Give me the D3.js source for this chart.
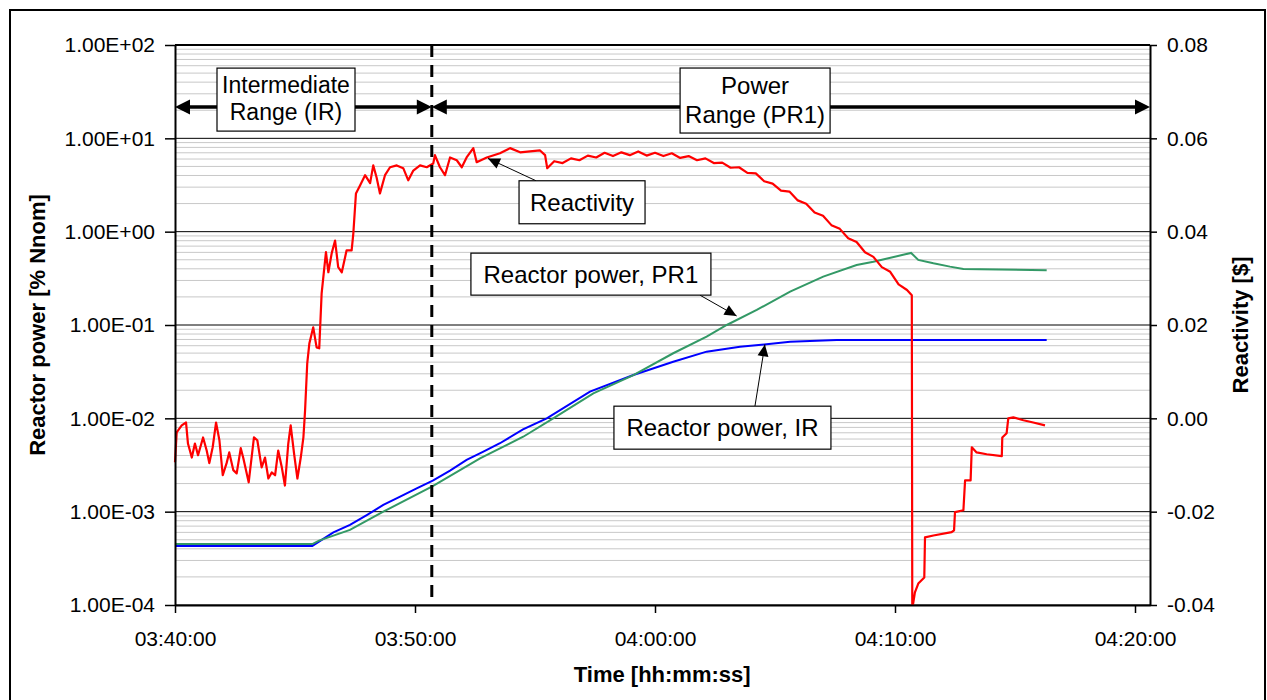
<!DOCTYPE html>
<html>
<head>
<meta charset="utf-8">
<script src="https://cdn.jsdelivr.net/npm/d3@7"></script>
<style>
  body { margin: 0; background: #fff; }
  svg text { font-family: Arial, "Liberation Sans", sans-serif; fill: #000; }
</style>
</head>
<body>
<div id="chart"></div>
<script>
// all times are minutes after 03:40:00
const reactTime = [
  0, 0.07, 0.28, 0.46, 0.54, 0.70, 0.83, 0.96, 1.17, 1.32, 1.43, 1.57, 1.71, 1.85, 1.99,
  2.15, 2.26, 2.43, 2.57, 2.74, 2.85, 3.07, 3.29, 3.43, 3.61, 3.75, 3.89, 4.03, 4.17, 4.30,
  4.45, 4.58, 4.72, 4.82, 4.96, 5.10, 5.24, 5.35, 5.42, 5.51, 5.60, 5.76, 5.90, 6.01, 6.11,
  6.21, 6.29, 6.39, 6.53, 6.67, 6.80, 6.95, 7.15, 7.36, 7.43, 7.54, 7.71, 7.92, 8.13, 8.26,
  8.40, 8.54, 8.75, 8.96, 9.24, 9.51, 9.72, 9.93, 10.21, 10.49, 10.76, 10.83, 11.04, 11.25, 11.46,
  11.74, 11.95, 12.15, 12.43, 12.57, 12.99, 13.54, 13.96, 14.38, 14.79, 15.21, 15.42, 15.51,
  15.80, 16.15, 16.50, 16.85, 17.20, 17.55, 17.90, 18.25, 18.60, 18.95, 19.30, 19.65, 20.00,
  20.35, 20.70, 21.05, 21.40, 21.75, 22.10, 22.45, 22.80, 23.15, 23.50, 23.85, 24.20, 24.55,
  24.90, 25.25, 25.60, 25.95, 26.30, 26.65, 27.00, 27.35, 27.70, 28.05, 28.40, 28.75, 29.10,
  29.45, 29.80, 30.15, 30.50, 30.70, 30.72, 30.76, 30.83, 30.97, 31.18, 31.22, 31.25, 31.60,
  32.36, 32.46, 32.50, 32.85, 32.92, 33.15, 33.20, 33.40, 33.82, 34.45, 34.47, 34.65, 34.72,
  34.93, 35.35, 35.76, 36.25
];
const reactValue = [
  -0.0094, -0.0030, -0.0015, -0.0009, -0.0054, -0.0084, -0.0054, -0.0079, -0.0041, -0.0069, -0.0096, -0.0062, -0.0009, -0.0047, -0.0122,
  -0.0096, -0.0073, -0.0111, -0.0118, -0.0064, -0.0086, -0.0137, -0.0041, -0.0047, -0.0105, -0.0084, -0.0129, -0.0116, -0.0122, -0.0069,
  -0.0105, -0.0144, -0.0054, -0.0015, -0.0075, -0.0129, -0.0084, -0.0041, 0.0017, 0.0118, 0.0161, 0.0195, 0.0152, 0.0150, 0.0268,
  0.0317, 0.0356, 0.0313, 0.0354, 0.0381, 0.0324, 0.0313, 0.0360, 0.0360, 0.0396, 0.0482, 0.0499, 0.0521, 0.0504, 0.0542,
  0.0516, 0.0482, 0.0521, 0.0538, 0.0542, 0.0536, 0.0510, 0.0531, 0.0542, 0.0538, 0.0546, 0.0564, 0.0538, 0.0521, 0.0559,
  0.0553, 0.0538, 0.0559, 0.0579, 0.0549, 0.0559, 0.0568, 0.0579, 0.0570, 0.0572, 0.0574, 0.0564, 0.0536,
  0.0551, 0.0547, 0.0557, 0.0553, 0.0563, 0.0559, 0.0569, 0.0562, 0.0570, 0.0564, 0.0572, 0.0563, 0.0569,
  0.0562, 0.0568, 0.0558, 0.0562, 0.0553, 0.0557, 0.0547, 0.0548, 0.0537, 0.0538, 0.0526, 0.0525, 0.0508,
  0.0503, 0.0488, 0.0486, 0.0467, 0.0460, 0.0441, 0.0434, 0.0414, 0.0406, 0.0386, 0.0378, 0.0356, 0.0346,
  0.0324, 0.0314, 0.0287, 0.0275, 0.0264, -0.0400, -0.0396, -0.0373, -0.0354, -0.0343, -0.0341, -0.0255, -0.0251,
  -0.0244, -0.0240, -0.0201, -0.0197, -0.0133, -0.0133, -0.0062, -0.0073, -0.0077, -0.0081, -0.0041, -0.0032, 0.0000,
  0.0002, -0.0004, -0.0009, -0.0015
];

const irTime = [0, 5.72, 6.60, 7.29, 7.99, 8.68, 9.38, 10.07, 10.74, 11.46, 12.15, 12.85, 13.54, 14.50,
  15.49, 17.29, 19.10, 20.76, 22.15, 23.54, 24.65, 25.63, 27.57, 36.32];
const irPower = [4.3e-4, 4.3e-4, 6.0e-4, 7.2e-4, 9.2e-4, 1.18e-3, 1.45e-3, 1.78e-3, 2.15e-3, 2.75e-3, 3.58e-3, 4.40e-3, 5.41e-3, 7.6e-3,
  1.0e-2, 1.93e-2, 2.91e-2, 4.04e-2, 5.18e-2, 5.86e-2, 6.21e-2, 6.62e-2, 6.90e-2, 6.90e-2];

const prTime = [0, 5.72, 6.00, 7.29, 8.68, 10.74, 12.71, 13.54, 14.51, 15.76, 17.43, 19.10, 20.76, 22.15,
  22.99, 24.24, 25.63, 27.01, 28.40, 29.10, 30.67, 30.97, 31.60, 32.29, 32.85, 33.54, 36.32];
const prPower = [4.5e-4, 4.5e-4, 4.9e-4, 6.37e-4, 1.0e-3, 1.88e-3, 3.73e-3, 4.77e-3, 6.35e-3, 1.0e-2, 1.85e-2, 2.91e-2, 4.98e-2, 7.5e-2,
  0.100, 0.145, 0.228, 0.330, 0.440, 0.476, 0.592, 0.498, 0.458, 0.422, 0.398, 0.395, 0.386];

const powerTicks = [1e-4, 1e-3, 1e-2, 1e-1, 1, 10, 100];
const powerTickLabels = ["1.00E-04", "1.00E-03", "1.00E-02", "1.00E-01", "1.00E+00", "1.00E+01", "1.00E+02"];
const reactTicks = [-0.04, -0.02, 0, 0.02, 0.04, 0.06, 0.08];
const reactTickLabels = ["-0.04", "-0.02", "0.00", "0.02", "0.04", "0.06", "0.08"];
const timeTicks = [0, 10, 20, 30, 40];
const timeTickLabels = ["03:40:00", "03:50:00", "04:00:00", "04:10:00", "04:20:00"];
const timeEnd = 40.625;       // 04:20:37.5
const rangeSwitch = 10.7;     // IR -> PR1 switch-over

const W = 1267, H = 700;
const margin = {top: 45, right: 117, bottom: 95, left: 175};
const width = W - margin.left - margin.right;
const height = H - margin.top - margin.bottom;

const svg = d3.select('#chart').append('svg')
    .attr('width', W)
    .attr('height', H);

// outer frame
svg.append('rect')
    .attr('x', 10).attr('y', 10)
    .attr('width', 1255).attr('height', 720)
    .attr('fill', '#fff')
    .attr('stroke', '#000')
    .attr('stroke-width', 2);

const chart = svg.append('g')
    .attr('transform', `translate(${margin.left},${margin.top})`);

const x = d3.scaleLinear().domain([0, timeEnd]).range([0, width]);
const yPower = d3.scaleLog().domain([1e-4, 1e2]).range([height, 0]);
const yReact = d3.scaleLinear().domain([-0.04, 0.08]).range([height, 0]);

// minor log gridlines
const minor = [];
for (let e = -4; e < 2; e++) {
  for (let m = 2; m <= 9; m++) minor.push(m * Math.pow(10, e));
}
chart.selectAll('.minor')
  .data(minor)
  .join('line')
    .attr('class', 'minor')
    .attr('x1', 0).attr('x2', width)
    .attr('y1', d => yPower(d)).attr('y2', d => yPower(d))
    .attr('stroke', '#c8c8c8')
    .attr('stroke-width', 1);

chart.selectAll('.major')
  .data(powerTicks)
  .join('line')
    .attr('class', 'major')
    .attr('x1', 0).attr('x2', width)
    .attr('y1', d => yPower(d)).attr('y2', d => yPower(d))
    .attr('stroke', '#000')
    .attr('stroke-width', 1);

// series
const powerLine = d3.line().x(d => x(d[0])).y(d => yPower(d[1]));
const reactLine = d3.line().x(d => x(d[0])).y(d => yReact(d[1]));

chart.append('path')
    .datum(d3.zip(irTime, irPower))
    .attr('d', powerLine)
    .attr('fill', 'none')
    .attr('stroke', '#0000ff')
    .attr('stroke-width', 2);

chart.append('path')
    .datum(d3.zip(prTime, prPower))
    .attr('d', powerLine)
    .attr('fill', 'none')
    .attr('stroke', '#339966')
    .attr('stroke-width', 2);

chart.append('path')
    .datum(d3.zip(reactTime, reactValue))
    .attr('d', reactLine)
    .attr('fill', 'none')
    .attr('stroke', '#ff0000')
    .attr('stroke-width', 2.2)
    .attr('stroke-linejoin', 'round');

// switch-over marker
chart.append('line')
    .attr('x1', x(rangeSwitch)).attr('x2', x(rangeSwitch))
    .attr('y1', 0).attr('y2', height)
    .attr('stroke', '#000')
    .attr('stroke-width', 3)
    .attr('stroke-dasharray', '12,8');

// axes
function styleAxis(g) {
  g.select('.domain').attr('stroke', '#000').attr('stroke-width', 2);
  g.selectAll('.tick line').attr('stroke', '#000').attr('stroke-width', 1.5);
  g.selectAll('.tick text').attr('font-size', 21).attr('fill', '#000');
  g.attr('font-family', null);
}

chart.append('g')
    .attr('transform', `translate(0,${height})`)
    .call(d3.axisBottom(x).tickValues(timeTicks)
      .tickFormat((d, i) => timeTickLabels[i]).tickSize(8).tickPadding(18).tickSizeOuter(0))
    .call(styleAxis);

chart.append('g')
    .call(d3.axisLeft(yPower).tickValues(powerTicks)
      .tickFormat((d, i) => powerTickLabels[i]).tickSize(10).tickPadding(10).tickSizeOuter(0))
    .call(styleAxis);

chart.append('g')
    .attr('transform', `translate(${width},0)`)
    .call(d3.axisRight(yReact).tickValues(reactTicks)
      .tickFormat((d, i) => reactTickLabels[i]).tickSize(7).tickPadding(10).tickSizeOuter(0))
    .call(styleAxis);

// top border of plot area
chart.append('line')
    .attr('x1', 0).attr('x2', width)
    .attr('y1', 0).attr('y2', 0)
    .attr('stroke', '#000')
    .attr('stroke-width', 2);

// axis titles
svg.append('text')
    .attr('transform', `translate(45,${margin.top + height / 2}) rotate(-90)`)
    .attr('text-anchor', 'middle')
    .attr('font-size', 22)
    .attr('font-weight', 'bold')
    .text('Reactor power [% Nnom]');

svg.append('text')
    .attr('transform', `translate(1248,${margin.top + height / 2}) rotate(-90)`)
    .attr('text-anchor', 'middle')
    .attr('font-size', 22)
    .attr('font-weight', 'bold')
    .text('Reactivity [$]');

svg.append('text')
    .attr('x', margin.left + x(20.3))
    .attr('y', 682)
    .attr('text-anchor', 'middle')
    .attr('font-size', 22)
    .attr('font-weight', 'bold')
    .text('Time [hh:mm:ss]');

// annotation helpers
function arrowHead(g, x1, y1, x2, y2, len, half) {
  const a = Math.atan2(y2 - y1, x2 - x1);
  const bx = x2 - len * Math.cos(a), by = y2 - len * Math.sin(a);
  const px = -Math.sin(a) * half, py = Math.cos(a) * half;
  g.append('path')
      .attr('d', `M${x2},${y2}L${bx + px},${by + py}L${bx - px},${by - py}Z`)
      .attr('fill', '#000');
}

function textBox(g, cx, cy, w, h, lines, size, offsets) {
  g.append('rect')
      .attr('x', cx - w / 2).attr('y', cy - h / 2)
      .attr('width', w).attr('height', h)
      .attr('fill', '#fff')
      .attr('stroke', '#000')
      .attr('stroke-width', 1.2);
  lines.forEach((s, i) => {
    g.append('text')
        .attr('x', cx).attr('y', cy + offsets[i])
        .attr('text-anchor', 'middle')
        .attr('font-size', size)
        .text(s);
  });
}

const ann = chart.append('g');

// range arrows
const arrowY = yReact(0.0667);
const headLen = 15, headHalf = 7.5;
[[0, rangeSwitch], [rangeSwitch, timeEnd]].forEach(([a, b]) => {
  ann.append('line')
      .attr('x1', x(a) + headLen - 1).attr('x2', x(b) - headLen + 1)
      .attr('y1', arrowY).attr('y2', arrowY)
      .attr('stroke', '#000')
      .attr('stroke-width', 3.5);
  arrowHead(ann, x(b), arrowY, x(a), arrowY, headLen, headHalf);
  arrowHead(ann, x(a), arrowY, x(b), arrowY, headLen, headHalf);
});

const rangeLabels = [
  {lines: ["Intermediate", "Range (IR)"], t: 4.625, v: 0.0683, w: 138, h: 63, size: 23, offsets: [-7, 20]},
  {lines: ["Power", "Range (PR1)"], t: 24.17, v: 0.0681, w: 150, h: 65, size: 24, offsets: [-7, 22]}
];
rangeLabels.forEach(d => textBox(ann, x(d.t), yReact(d.v), d.w, d.h, d.lines, d.size, d.offsets));

// series callouts
const callouts = [
  {text: "Reactivity", t: 16.96, v: 0.0463, w: 126, h: 43,
   tipT: 13.04, tipV: 0.0557, axis: 'react', tail: [-46, -21.5]},
  {text: "Reactor power, PR1", t: 17.33, v: 0.0309, w: 240, h: 42,
   tipT: 23.4, tipV: 0.125, axis: 'power', tail: [109, 21]},
  {text: "Reactor power, IR", t: 22.81, v: -0.0020, w: 217, h: 43,
   tipT: 24.58, tipV: 0.062, axis: 'power', tail: [32.5, -21.5]}
];
callouts.forEach(d => {
  const cx = x(d.t), cy = yReact(d.v);
  const tx = x(d.tipT), ty = d.axis === 'react' ? yReact(d.tipV) : yPower(d.tipV);
  const sx = cx + d.tail[0], sy = cy + d.tail[1];
  ann.append('line')
      .attr('x1', sx).attr('y1', sy).attr('x2', tx).attr('y2', ty)
      .attr('stroke', '#000')
      .attr('stroke-width', 1);
  arrowHead(ann, sx, sy, tx, ty, 12, 5.5);
  textBox(ann, cx, cy, d.w, d.h, [d.text], 24, [8.5]);
});
</script>
</body>
</html>
